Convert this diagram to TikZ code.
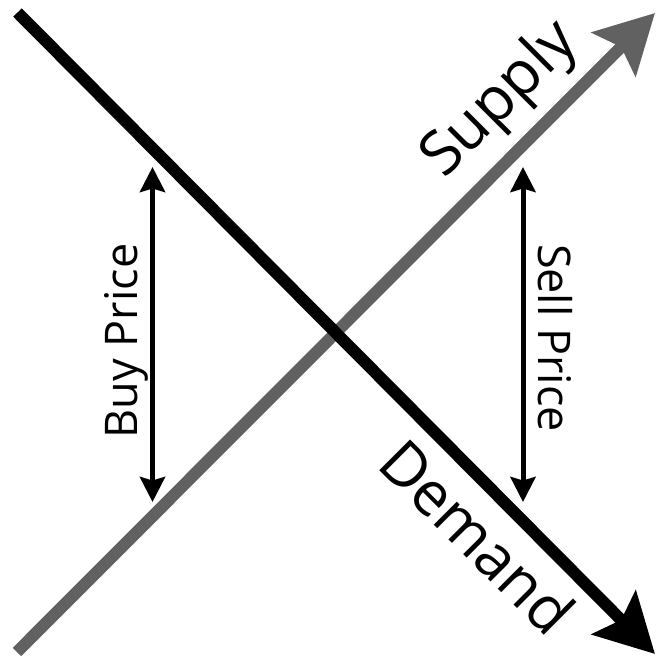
\documentclass[tikz,border=0pt]{standalone}
\usepackage{fontspec}
\setmainfont{Open Sans}
\usetikzlibrary{arrows.meta}
\definecolor{supplygray}{RGB}{97,97,97}
\begin{document}
\begin{tikzpicture}[x=1pt,y=-1pt,
  bigline/.style={line width=12pt, -{Stealth[length=58pt,width=61pt,inset=10pt]}},
  pricearrow/.style={line width=5pt, {Stealth[length=25pt,width=25pt,inset=3.5pt]}-{Stealth[length=25pt,width=25pt,inset=3.5pt]}},
  lbl/.style={font=\fontsize{45}{54}\selectfont, inner sep=0pt},
  biglbl/.style={font=\fontsize{61}{73}\selectfont, inner sep=0pt}]
\useasboundingbox (0,0) rectangle (657,656);
% end points
\coordinate (sstart) at (17,652);
\coordinate (send) at (655,13);
\coordinate (dstart) at (17.5,12.5);
\coordinate (dend) at (655,654);
\coordinate (btop) at (152.5,167);
\coordinate (bbot) at (152.5,502);
\coordinate (stop) at (523,167);
\coordinate (sbot) at (523,502);
% supply (gray) below demand (black)
\draw[bigline, draw=supplygray, fill=supplygray] (sstart) -- (send);
\draw[bigline, draw=black, fill=black] (dstart) -- (dend);
% price arrows
\draw[pricearrow] (btop) -- (bbot);
\draw[pricearrow] (stop) -- (sbot);
% labels
\node[lbl, rotate=90, anchor=base] (buy) at (137,341) {Buy Price};
\node[lbl, rotate=-90, anchor=base] (sell) at (538,338) {Sell Price};
\node[biglbl, rotate=45, anchor=base west] (supply) at (444,180) {Supply};
\node[biglbl, rotate=-45, anchor=base west] (demand) at (375,466) {Demand};
\end{tikzpicture}
\end{document}
